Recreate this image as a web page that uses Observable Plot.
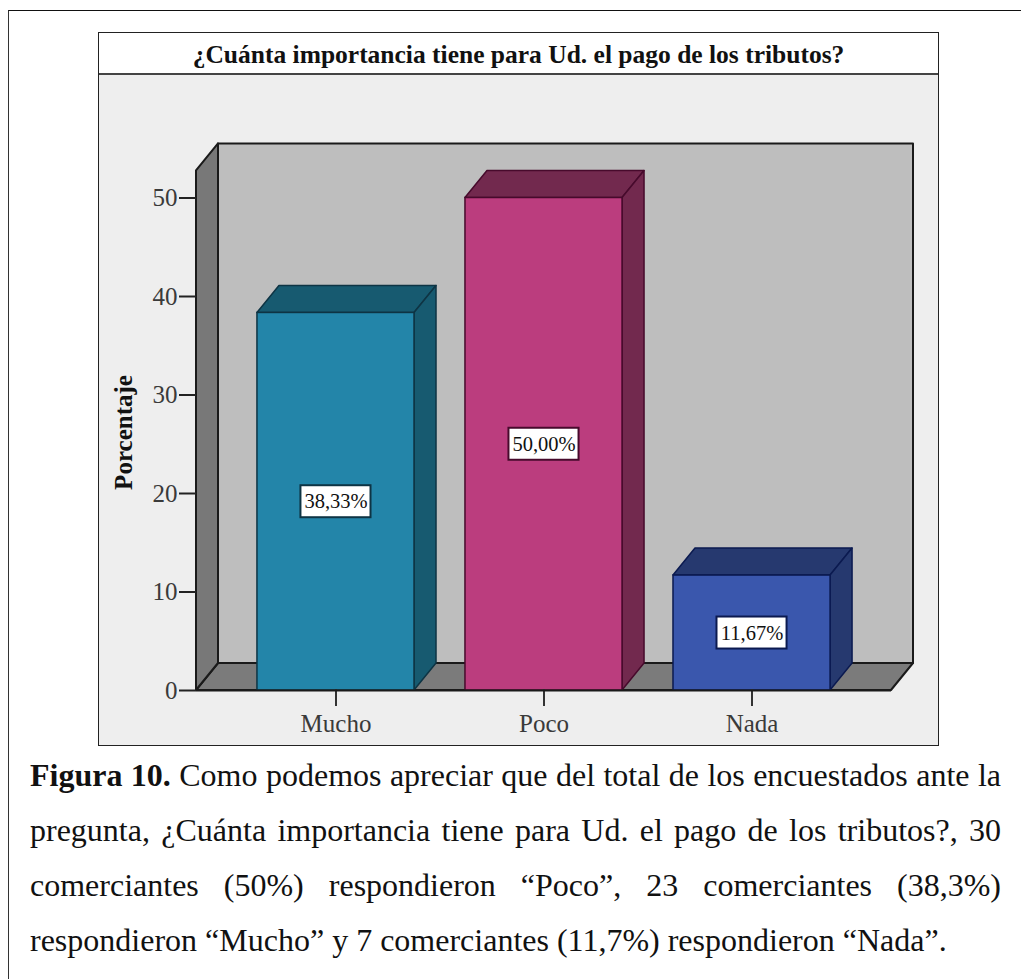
<!DOCTYPE html>
<html lang="es">
<head>
<meta charset="utf-8">
<script src="https://cdn.jsdelivr.net/npm/d3@7"></script>
<script src="https://cdn.jsdelivr.net/npm/@observablehq/plot@0.6"></script>
<style>
  html, body { margin: 0; padding: 0; background: #fff; }
  body { width: 1021px; height: 979px; position: relative; overflow: hidden; font-family: "Liberation Serif", serif; }
  #page { position: absolute; left: 8px; top: 10px; width: 1013px; height: 969px; border-left: 1.5px solid #333; border-top: 1.5px solid #111; box-sizing: border-box; }
  #frame { position: absolute; left: 98px; top: 32px; width: 841px; height: 714px; border: 1.5px solid #222; box-sizing: border-box; background: #eee; }
  #title { height: 40px; line-height: 43px; background: #fff; border-bottom: 2px solid #444; text-align: center; font-weight: bold; font-size: 25.5px; color: #111; box-sizing: content-box; white-space: nowrap; }
  #chart svg { display: block; }
  #caption { position: absolute; left: 30px; top: 748px; width: 971px; font-size: 32px; line-height: 55px; color: #111; }
  #caption div { text-align: justify; text-align-last: justify; white-space: nowrap; }
  #caption div:last-child { text-align-last: left; }
</style>
</head>
<body>
<div id="page"></div>
<div id="frame">
  <div id="title"></div>
  <div id="chart"></div>
</div>
<div id="caption"></div>
<script>
const chartTitle = "¿Cuánta importancia tiene para Ud. el pago de los tributos?";
const categories = ["Mucho", "Poco", "Nada"];
const percentages = [38.33, 50.0, 11.67];
const valueLabels = ["38,33%", "50,00%", "11,67%"];
const faceColors = ["#2385a9", "#bb3d7e", "#3a57ad"];
const sideColors = ["#175a70", "#72294e", "#26396f"];
const edgeColors = ["#0e3444", "#470a2c", "#0b1a50"];
const yTicks = [0, 10, 20, 30, 40, 50];
const yLabel = "Porcentaje";
const wallTop = 52.75;
const captionBold = "Figura 10.";
const captionLines = [
  " Como podemos apreciar que del total de los encuestados ante la",
  "pregunta, ¿Cuánta importancia tiene para Ud. el pago de los tributos?, 30",
  "comerciantes (50%) respondieron “Poco”, 23 comerciantes (38,3%)",
  "respondieron “Mucho” y 7 comerciantes (11,7%) respondieron “Nada”."
];

const depthX = 22, depthY = 27;
const xRange = [97, 792];
const rows = categories.map((c, i) => ({category: c, value: percentages[i], label: valueLabels[i], i}));

document.getElementById("title").textContent = chartTitle;
const cap = document.getElementById("caption");
captionLines.forEach((line, i) => {
  const d = document.createElement("div");
  if (i === 0) { const b = document.createElement("b"); b.textContent = captionBold; d.appendChild(b); }
  d.appendChild(document.createTextNode(line));
  cap.appendChild(d);
});

const polygon = (parent, pts, fill, stroke, width) => {
  d3.select(parent).append("polygon")
    .attr("points", pts.map(p => p.join(",")).join(" "))
    .attr("fill", fill).attr("stroke", stroke).attr("stroke-width", width).attr("stroke-linejoin", "round");
};

// 3D room: side wall, floor and back wall, positioned from the plot's own scales
const room = (index, {y}) => {
  const g = d3.create("svg:g").node();
  const [l, r] = xRange;
  const y0 = y(0), yt = y(wallTop);
  polygon(g, [[l + depthX, yt - depthY], [r + depthX, yt - depthY], [r + depthX, y0 - depthY], [l + depthX, y0 - depthY]], "#bebebe", "#1a1a1a", 2);
  polygon(g, [[l, y0], [l + depthX, y0 - depthY], [r + depthX, y0 - depthY], [r, y0]], "#7b7b7b", "#1a1a1a", 2);
  polygon(g, [[l, yt], [l + depthX, yt - depthY], [l + depthX, y0 - depthY], [l, y0]], "#787878", "#1a1a1a", 2);
  return g;
};

// 3D top and side faces of each bar
const barFaces = (index, {x, y}) => {
  const g = d3.create("svg:g").node();
  rows.forEach(d => {
    const a = x(d.category), b = a + x.bandwidth(), t = y(d.value), z = y(0);
    polygon(g, [[a, t], [a + depthX, t - depthY], [b + depthX, t - depthY], [b, t]], sideColors[d.i], edgeColors[d.i], 1.5);
    polygon(g, [[b, t], [b + depthX, t - depthY], [b + depthX, z - depthY], [b, z]], sideColors[d.i], edgeColors[d.i], 1.5);
  });
  return g;
};

const chart = Plot.plot({
  width: 838,
  height: 669,
  marginLeft: 97, marginRight: 46, marginTop: 100, marginBottom: 55,
  style: {background: "transparent", fontFamily: "Liberation Serif", color: "#222"},
  x: {domain: categories, range: xRange, paddingInner: 0.245, paddingOuter: 0.293, round: false},
  y: {domain: [0, 50], range: [615, 122.5], ticks: yTicks},
  color: {domain: categories, range: faceColors},
  marks: [
    room,
    barFaces,
    Plot.barY(rows, {x: "category", y: "value", fill: "category", stroke: d => edgeColors[d.i], strokeWidth: 1.5}),
    Plot.axisY(yTicks, {anchor: "left", tickSize: 17, tickPadding: 2, fontSize: 25, label: null, stroke: "#222", strokeWidth: 2, fill: "#3a3a3a"}),
    Plot.axisX(categories, {anchor: "bottom", tickSize: 17, tickPadding: 8, fontSize: 25, label: null, stroke: "#333", strokeWidth: 2, fill: "#3a3a3a"}),
    Plot.ruleY([0], {stroke: "#1a1a1a", strokeWidth: 2}),
    Plot.barY(rows, {x: "category", y1: d => d.value / 2, y2: d => d.value / 2, fill: "#fff", stroke: d => edgeColors[d.i], strokeWidth: 2, insetTop: -16, insetBottom: -16, insetLeft: 43.5, insetRight: 43.5}),
    Plot.text(rows, {x: "category", y: d => d.value / 2, text: "label", fontSize: 20.5, fill: "#111"}),
    Plot.axisY({ticks: [], anchor: "left", label: yLabel, labelAnchor: "center", labelOffset: 82, labelArrow: "none", fontSize: 25, fontWeight: "bold", fill: "#111"})
  ]
});
document.getElementById("chart").appendChild(chart);
</script>
</body>
</html>
